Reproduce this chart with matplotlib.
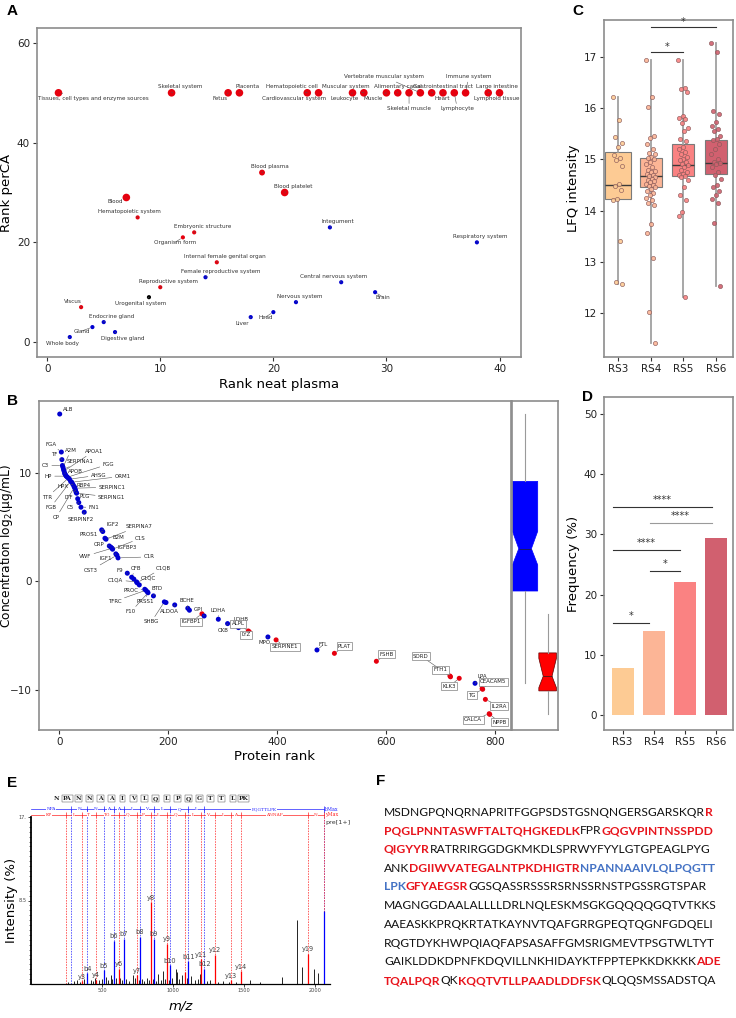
import matplotlib
matplotlib.use("Agg")
import matplotlib.pyplot as plt
from matplotlib.ticker import MultipleLocator
import numpy as np

plt.rcParams["font.family"] = "DejaVu Sans"
W, H = 736, 1018
fig = plt.figure(figsize=(W / 100, H / 100), dpi=100)
fig.patch.set_facecolor("white")

# ---------------- Panel A data ----------------
a_names = ["Tissues, cell types and enzyme sources", "Skeletal system", "Fetus", "Placenta",
           "Hematopoietic cell", "Cardiovascular system", "Leukocyte", "Muscular system", "Muscle",
           "Alimentary canal", "Skeletal muscle", "Vertebrate muscular system", "Gastrointestinal tract",
           "Heart", "Lymphocyte", "Immune system", "Large intestine", "Lymphoid tissue",
           "Blood plasma", "Blood platelet", "Blood", "Hematopoietic system", "Embryonic structure",
           "Organism form", "Integument", "Respiratory system", "Internal female genital organ",
           "Female reproductive system", "Reproductive system", "Central nervous system", "Brain",
           "Urogenital system", "Viscus", "Nervous system", "Head", "Liver", "Endocrine gland",
           "Gland", "Digestive gland", "Whole body"]
a_rank_neat = [1, 11, 16, 17, 23, 24, 27, 28, 30, 31, 32, 33, 34, 35, 36, 37, 39, 40,
               19, 21, 7, 8, 13, 12, 25, 38, 15, 14, 10, 26, 29, 9, 3, 22, 20, 18, 5, 4, 6, 2]
a_rank_perca = [50] * 18 + [34, 30, 29, 25, 22, 21, 23, 20, 16, 13, 11, 12, 10, 9, 7, 8, 6, 5, 4, 3, 2, 1]
a_group = ["red"] * 18 + ["red", "red", "red", "red", "red", "red", "blue", "blue", "red", "blue",
                          "red", "blue", "blue", "black", "red", "blue", "blue", "blue", "blue",
                          "blue", "blue", "blue"]
a_weight = ["L"] * 18 + ["M", "L", "L"] + ["S"] * 19
# label offsets (pixels, right/up) - layout only
a_offsets = [(35, -6), (9, 6), (-8, -6), (8, 6), (-15, 6), (-25, -6), (-8, -6), (-18, 6), (-13, -6),
             (0, 6), (0, -16), (-36, 16), (11, 6), (-1, -6), (3, -16), (3, 16), (9, 6), (-3, -6),
             (8, 6), (9, 6), (-11, -4), (-8, 6), (8, 6), (-8, -5), (8, 6), (3, 6), (8, 6), (15, 6),
             (8, 6), (-8, 6), (8, -5), (-8, -6), (-8, 6), (4, 6), (-8, -5), (-8, -6), (8, 6), (-11, -4),
             (8, -6), (-7, -6)]

# ---------------- Panel B data ----------------
b_genes = ["ALB", "FGA", "TF", "C3", "A2M", "SERPINA1", "APOA1", "APOB", "", "", "HP", "FGG", "TTR",
           "AHSG", "FGB", "ORM1", "HPX", "RBP4", "CP", "SERPINC1", "LTF", "PLG", "SERPING1", "", "C5",
           "FN1", "SERPINF2", "IGF2", "PROS1", "B2M", "SERPINA7", "CRP", "IGFBP3", "VWF", "C1S", "IGF1",
           "CST3", "C1R", "F9", "CFB", "", "C1QA", "C1QB", "C1QC", "PROC", "TFRC", "PRSS1", "F10", "BTD",
           "SHBG", "", "ALDOA", "BCHE", "", "IGFBP1", "GPI", "LDHA", "CKB", "LDHB", "ALPL", "LYZ", "MPO",
           "SERPINE1", "FTL", "PLAT", "FSHB", "SORD", "FTH1", "KLK3", "LPA", "CEACAM5", "TG", "IL2RA",
           "CALCA", "NPPB"]
b_rank = [1, 4, 5, 6, 7, 8, 9, 10, 11, 12, 13, 15, 17, 19, 21, 23, 25, 27, 28, 29, 30, 31, 32, 34, 36,
          40, 46, 78, 80, 84, 86, 92, 95, 97, 98, 104, 106, 108, 125, 133, 137, 142, 143, 147, 157, 159,
          162, 163, 173, 193, 196, 212, 236, 239, 262, 266, 292, 309, 329, 347, 349, 383, 398, 473, 505,
          582, 717, 718, 734, 763, 776, 777, 782, 789, 790]
b_conc = [15.4, 11.9, 11.2, 10.66, 10.5, 10.3, 10.15, 9.95, 9.85, 9.75, 9.68, 9.58, 9.5, 9.4, 9.2, 9.12,
          8.94, 8.76, 8.66, 8.57, 8.39, 8.2, 8.11, 7.6, 7.25, 6.82, 6.36, 4.73, 4.58, 3.96, 3.87, 3.25,
          3.13, 3.04, 2.95, 2.52, 2.4, 2.15, 0.74, 0.37, 0.2, -0.06, -0.14, -0.34, -0.74, -0.83, -0.98,
          -1.06, -1.35, -1.9, -1.96, -2.18, -2.49, -2.67, -3.0, -3.2, -3.5, -3.9, -4.27, -4.58, -4.67,
          -5.13, -5.4, -6.33, -6.64, -7.37, -8.73, -8.8, -8.94, -9.4, -9.89, -9.95, -10.88, -12.2, -12.26]
b_red = {"IGFBP1", "ALPL", "LYZ", "SERPINE1", "PLAT", "FSHB", "SORD", "FTH1", "KLK3", "CEACAM5", "TG",
         "IL2RA", "CALCA", "NPPB"}
b_offsets = {"ALB": (8, 5), "FGA": (-10, 8), "TF": (-8, 5), "C3": (-17, 0), "A2M": (8, 17),
             "SERPINA1": (17, 8), "APOA1": (30, 20), "APOB": (11, 2), "HP": (-18, 0), "FGG": (41, 13),
             "TTR": (-21, -19), "AHSG": (29, 4), "FGB": (-20, -26), "ORM1": (51, 6), "HPX": (-10, -2),
             "RBP4": (10, 1), "CP": (-18, -30), "SERPINC1": (37, 1), "LTF": (-7, -7), "PLG": (9, -4),
             "SERPING1": (35, -4), "C5": (-8, -5), "FN1": (13, 0), "SERPINF2": (-3, -7), "IGF2": (11, 5),
             "PROS1": (-14, -3), "B2M": (13, 1), "SERPINA7": (33, 13), "CRP": (-10, 1), "IGFBP3": (16, 0),
             "VWF": (-27, -8), "C1S": (28, 11), "IGF1": (-10, -5), "CST3": (-26, -15), "C1R": (31, 1),
             "F9": (-7, 3), "CFB": (4, 9), "C1QA": (-21, 2), "C1QB": (26, 15), "C1QC": (9, 7),
             "PROC": (-14, -1), "TFRC": (-31, -11), "PRSS1": (-2, -10), "F10": (-17, -19), "BTD": (4, 7),
             "SHBG": (-13, -20), "ALDOA": (-5, -7), "BCHE": (-1, 8), "IGFBP1": (-11, -8), "GPI": (-6, 6),
             "LDHA": (0, 9), "CKB": (-4, -7), "LDHB": (3, 8), "ALPL": (-10, 7), "LYZ": (-3, -3),
             "MPO": (-3, -6), "SERPINE1": (9, -7), "FTL": (6, 5), "PLAT": (10, 7), "FSHB": (10, 7),
             "SORD": (-29, 20), "FTH1": (-10, 7), "KLK3": (-10, -8), "LPA": (7, 7), "CEACAM5": (11, 7),
             "TG": (-11, -6), "IL2RA": (14, -7), "CALCA": (-16, -6), "NPPB": (10, -8)}
# side boxplot summary (blue = detected, red = not detected)
bs_med = [3.0, -8.75]
bs_q1 = [-0.9, -10.1]
bs_q3 = [9.2, -6.6]
bs_lo = [-9.4, -12.26]
bs_hi = [15.4, -3.0]
bs_cilo = [1.5, -9.8]
bs_cihi = [4.6, -7.1]

# ---------------- Panel C data ----------------
c_groups = ["RS3", "RS4", "RS5", "RS6"]
c_rs3 = [16.21, 15.76, 15.43, 15.32, 15.24, 15.09, 15.03, 14.98, 14.86, 14.52, 14.47, 14.41, 14.23, 14.20,
         13.40, 12.60, 12.56]
c_rs4 = [16.93, 16.22, 16.02, 15.45, 15.42, 15.30, 15.20, 15.12, 15.10, 15.05, 15.02, 15.00, 14.95, 14.90,
         14.85, 14.80, 14.78, 14.75, 14.72, 14.70, 14.68, 14.65, 14.62, 14.60, 14.58, 14.55, 14.52, 14.50,
         14.48, 14.45, 14.42, 14.38, 14.35, 14.30, 14.25, 14.20, 14.15, 14.10, 13.73, 13.57, 13.07, 12.02,
         11.42]
c_rs5 = [16.93, 16.40, 16.38, 16.32, 15.85, 15.80, 15.78, 15.70, 15.62, 15.55, 15.40, 15.35, 15.25, 15.20,
         15.15, 15.10, 15.05, 15.00, 14.98, 14.95, 14.90, 14.88, 14.85, 14.80, 14.75, 14.72, 14.70, 14.68,
         14.65, 14.60, 14.45, 14.30, 14.20, 13.97, 13.90, 12.32]
c_rs6 = [17.28, 17.10, 15.95, 15.88, 15.72, 15.65, 15.60, 15.55, 15.45, 15.40, 15.38, 15.30, 15.20, 15.10,
         15.00, 14.95, 14.92, 14.90, 14.85, 14.75, 14.70, 14.62, 14.50, 14.45, 14.38, 14.30, 14.22, 14.15,
         13.75, 12.52]
c_q1 = [14.22, 14.46, 14.68, 14.72]
c_med = [14.50, 14.67, 14.88, 14.93]
c_q3 = [15.14, 15.02, 15.30, 15.38]
c_sig = [(1, 2, 17.09, "*"), (1, 3, 17.58, "*")]

# ---------------- Panel D data ----------------
d_groups = ["RS3", "RS4", "RS5", "RS6"]
d_freq = [7.8, 13.9, 22.0, 29.4]
d_sig = [(0, 1, 15.3, "*"), (1, 2, 23.9, "*"), (0, 2, 27.4, "****"), (1, 3, 31.9, "****"),
         (0, 3, 34.6, "****")]

# ---------------- Panel E data ----------------
e_peptide = ["N", "PA", "N", "N", "A", "A", "I", "V", "L", "Q", "L", "P", "Q", "G", "T", "T", "L", "PK"]
e_b_frag = [283, 397, 511, 582, 653, 766, 865, 978, 1106, 1219]
e_b_seg = ["NPA", "N", "N", "A", "A", "I", "V", "L", "Q", "L", "PQGTTLPK"]
e_y_frag = [244, 357, 458, 616, 744, 841, 954, 1082, 1195, 1294, 1407, 1478, 1945]
e_y_seg = ["KP", "L", "T", "TG", "Q", "P", "L", "Q", "L", "V", "I", "A", "ANNAP", "N"]
e_precursor = 2059
e_pre_int = 7.4
e_b_peak_mz = [397, 511, 582, 653, 766, 865, 978, 1106, 1219]
e_b_peak_int = [1.1, 1.4, 4.4, 4.6, 4.8, 4.6, 1.9, 2.3, 1.55]
e_b_peak_lab = ["b4", "b5", "b6", "b7", "b8", "b9", "b10", "b11", "b12"]
e_y_peak_mz = [357, 458, 616, 744, 841, 954, 1082, 1195, 1294, 1407, 1478, 1945]
e_y_peak_int = [0.3, 0.45, 1.55, 0.9, 8.3, 4.1, 1.2, 2.5, 3.0, 0.4, 1.3, 3.1]
e_y_peak_lab = ["y3", "y4", "y6", "y7", "y8", "y9", "", "y11", "y12", "y13", "y14", "y19"]
e_noise_mz = [262, 301, 322, 348, 376, 392, 421, 436, 449, 476, 496, 528, 541, 560, 573, 598, 627, 640,
              671, 690, 716, 732, 760, 779, 795, 814, 829, 857, 878, 896, 914, 931, 945, 968, 990, 1018,
              1026, 1041, 1060, 1095, 1126, 1150, 1172, 1189, 1238, 1262, 1318, 1350, 1392, 1440, 1540,
              1612, 1765, 1868, 1908, 1992, 2016]
e_noise_int = [0.2, 0.3, 0.4, 0.2, 0.5, 0.3, 0.4, 0.3, 0.6, 0.4, 0.5, 0.7, 0.4, 0.9, 0.5, 0.6, 0.6, 0.4,
               0.5, 0.3, 0.9, 0.6, 0.4, 0.5, 0.3, 0.6, 0.4, 0.5, 0.3, 1.0, 0.4, 1.3, 0.5, 0.4, 0.6, 1.5,
               1.2, 0.5, 0.9, 0.6, 0.8, 0.4, 0.5, 1.0, 0.3, 0.4, 0.2, 0.3, 0.2, 0.2, 0.4, 0.2, 0.7, 6.5,
               1.7, 1.5, 1.1]

# ---------------- Panel F data ----------------
f_lines = [
    [("MSDNGPQNQRNAPRITFGGPSDSTGSNQNGERSGARSKQR", "k"), ("R", "r")],
    [("PQGLPNNTASWFTALTQHGKEDLK", "r"), ("FPR", "k"), ("GQGVPINTNSSPDD", "r")],
    [("QIGYYR", "r"), ("RATRRIRGGDGKMKDLSPRWYFYYLGTGPEAGLPYG", "k")],
    [("ANK", "k"), ("DGIIWVATEGALNTPKDHIGTR", "r"), ("NPANNAAIVLQLPQGTT", "b")],
    [("LPK", "b"), ("GFYAEGSR", "r"), ("GGSQASSRSSSRSRNSSRNSTPGSSRGTSPAR", "k")],
    [("MAGNGGDAALALLLLDRLNQLESKMSGKGQQQQGQTVTKKS", "k")],
    [("AAEASKKPRQKRTATKAYNVTQAFGRRGPEQTQGNFGDQELI", "k")],
    [("RQGTDYKHWPQIAQFAPSASAFFGMSRIGMEVTPSGTWLTYT", "k")],
    [("GAIKLDDKDPNFKDQVILLNKHIDAYKTFPPTEPKKDKKKK", "k"), ("ADE", "r")],
    [("TQALPQR", "r"), ("QK", "k"), ("KQQTVTLLPAADLDDFSK", "r"), ("QLQQSMSSADSTQA", "k")],
]

# ---------------- helpers ----------------
SPINE = "#8c8c8c"
TICK_FS = 7.5
LAB_FS = 9.5
RED = "#e6000e"
BLUE = "#0000d0"


def add_ax(l, t, r, b):
    return fig.add_axes([l / W, 1 - b / H, (r - l) / W, (b - t) / H])


def style(ax):
    for s in ax.spines.values():
        s.set_color(SPINE)
        s.set_linewidth(1.2)
    ax.tick_params(labelsize=TICK_FS, length=3, width=0.8, color="#333333", labelcolor="#222222", pad=2)


# ================= Panel A =================
axA = add_ax(37, 28, 521, 357)
style(axA)
cmap = {"red": RED, "blue": BLUE, "black": "black"}
smap = {"L": 30, "M": 18, "S": 9}
axA.scatter(a_rank_neat, a_rank_perca, c=[cmap[g] for g in a_group], s=[smap[w] for w in a_weight],
            linewidths=0, zorder=3)
for name, x, y, off in zip(a_names, a_rank_neat, a_rank_perca, a_offsets):
    axA.annotate(name, (x, y), xytext=off, textcoords="offset pixels", ha="center", va="center",
                 fontsize=4.1, color="#333333", zorder=4,
                 arrowprops=dict(arrowstyle="-", lw=0.4, color="#555555", shrinkA=0, shrinkB=2))
axA.set_xlim(-0.9, 41.9)
axA.set_ylim(-3, 63)
axA.set_xticks([0, 10, 20, 30, 40])
axA.set_yticks([0, 20, 40, 60])
axA.set_xlabel("Rank neat plasma", fontsize=LAB_FS, labelpad=3)
axA.set_ylabel("Rank perCA", fontsize=LAB_FS, labelpad=3)

# ================= Panel B =================
axB = add_ax(39, 401, 511, 730)
style(axB)
cols = [RED if g in b_red else BLUE for g in b_genes]
axB.scatter(b_rank, b_conc, c=cols, s=13, linewidths=0, zorder=3)
for g, x, y in zip(b_genes, b_rank, b_conc):
    if not g:
        continue
    off = b_offsets[g]
    kw = dict(fontsize=4.0, color="#222222", ha="center", va="center", zorder=5,
              textcoords="offset pixels", xytext=off,
              arrowprops=dict(arrowstyle="-", lw=0.4, color="#555555", shrinkA=0, shrinkB=2))
    if g in b_red:
        kw["bbox"] = dict(boxstyle="square,pad=0.25", fc="white", ec="#808080", lw=0.5)
        kw["zorder"] = 6
    axB.annotate(g, (x, y), **kw)
axB.set_xlim(-37, 829)
axB.set_ylim(-13.7, 16.6)
axB.set_xticks([0, 200, 400, 600, 800])
axB.set_yticks([-10, 0, 10])
axB.set_xlabel("Protein rank", fontsize=LAB_FS, labelpad=2)
axB.set_ylabel("Concentration log$_2$(μg/mL)", fontsize=8.8)
axB.yaxis.set_label_coords(-0.05, 0.56)

axBs = add_ax(512, 401, 558, 730)
style(axBs)
stats = []
for i in range(2):
    stats.append(dict(med=bs_med[i], q1=bs_q1[i], q3=bs_q3[i], whislo=bs_lo[i], whishi=bs_hi[i],
                      cilo=bs_cilo[i], cihi=bs_cihi[i], fliers=[]))
bp = axBs.bxp(stats, positions=[0, 1], widths=[1.12, 0.78], shownotches=True, patch_artist=True,
              showfliers=False, showcaps=False,
              whiskerprops=dict(color="#9a9a9a", lw=0.8),
              medianprops=dict(color="#222222", lw=0.5))
for patch, col in zip(bp["boxes"], ["#0000ff", "#ff0000"]):
    patch.set_facecolor(col)
    patch.set_edgecolor(col if col == "#0000ff" else "#600000")
    patch.set_linewidth(0.5)
axBs.set_xlim(-0.58, 1.46)
axBs.set_ylim(-13.7, 16.6)
axBs.set_xticks([])
axBs.set_yticks([])

# ================= Panel C =================
pal = ["#FDCB94", "#FCB596", "#FA8282", "#D1606F"]
axC = add_ax(604, 20, 733, 357)
style(axC)
c_data = [c_rs3, c_rs4, c_rs5, c_rs6]
cstats = []
for i, vals in enumerate(c_data):
    cstats.append(dict(med=c_med[i], q1=c_q1[i], q3=c_q3[i], whislo=min(vals), whishi=max(vals),
                       fliers=[]))
bpc = axC.bxp(cstats, positions=range(4), widths=[0.82, 0.68, 0.68, 0.66], patch_artist=True,
              showfliers=False, showcaps=False,
              whiskerprops=dict(color="#a0a0a0", lw=1.3),
              medianprops=dict(color="#3a3a3a", lw=1.0),
              boxprops=dict(edgecolor="#7a7a7a", lw=0.8))
for patch, col in zip(bpc["boxes"], pal):
    patch.set_facecolor(col)
    patch.set_zorder(2)
for i, vals in enumerate(c_data):
    n = len(vals)
    jit = [((k * 0.6180339) % 1.0 - 0.5) * 0.3 for k in range(n)]
    axC.scatter([i + j for j in jit], vals, s=9, facecolor=pal[i], edgecolor="#8a5a5a", linewidths=0.5,
                alpha=0.9, zorder=4)
for i, j, y, star in c_sig:
    axC.plot([i, j], [y, y], color="#333333", lw=0.8)
    axC.text((i + j) / 2, y + 0.01, star, ha="center", va="bottom", fontsize=7, color="#333333")
axC.set_xlim(-0.43, 3.52)
axC.set_ylim(11.14, 17.72)
axC.set_xticks(range(4))
axC.set_xticklabels(c_groups)
axC.set_yticks([12, 13, 14, 15, 16, 17])
axC.set_ylabel("LFQ intensity", fontsize=LAB_FS, labelpad=3)

# ================= Panel D =================
axD = add_ax(604, 397, 733, 730)
style(axD)
axD.bar(range(4), d_freq, width=0.7, color=pal, zorder=2)
for i, j, y, star in d_sig:
    x1 = i - 0.32 if i == 0 else i - 0.13
    x2 = j - 0.14
    col = "#9a9a9a" if (i, j) == (1, 3) else "#333333"
    axD.plot([x1, x2], [y, y], color=col, lw=0.8)
    axD.text((x1 + x2) / 2, y + 0.3, star, ha="center", va="bottom", fontsize=7, color="#333333")
axD.set_xlim(-0.6, 3.55)
axD.set_ylim(-2.5, 52.8)
axD.set_xticks(range(4))
axD.set_xticklabels(d_groups)
axD.set_yticks([0, 10, 20, 30, 40, 50])
axD.set_ylabel("Frequency (%)", fontsize=LAB_FS, labelpad=3)

# ================= Panel E =================
axE = add_ax(31, 817, 330, 984)
axE.set_xlim(0, 2103)
axE.set_ylim(0, 17)
for s in ["top", "right"]:
    axE.spines[s].set_visible(False)
axE.spines["left"].set_linewidth(1.3)
axE.spines["bottom"].set_linewidth(0.9)
axE.set_xticks([500, 1000, 1500, 2000])
axE.set_yticks([8.5, 17])
axE.set_yticklabels(["8.5", "17."])
axE.yaxis.set_minor_locator(MultipleLocator(0.5))
axE.tick_params(axis="both", labelsize=3.6, length=2, width=0.5, pad=1, labelcolor="#444444")
axE.tick_params(axis="y", which="minor", length=1.2, width=0.4)
frag_b_all = e_b_frag + [e_precursor]
frag_y_all = e_y_frag + [e_precursor]
axE.vlines(frag_b_all, 0, 17.8, colors="#3333ff", linestyles=(0, (2, 1.5)), lw=0.55, clip_on=False)
axE.vlines(frag_y_all, 0, 17.25, colors="#ff3333", linestyles=(0, (2, 1.5)), lw=0.55, clip_on=False)
axE.vlines(e_noise_mz, 0, e_noise_int, colors="black", lw=0.6, zorder=3)
axE.vlines(e_b_peak_mz, 0, e_b_peak_int, colors="#0000ff", lw=0.9, zorder=4)
axE.vlines(e_y_peak_mz, 0, e_y_peak_int, colors="#ff0000", lw=0.9, zorder=4)
axE.vlines([e_precursor], 0, [e_pre_int], colors="#0000ff", lw=0.9, zorder=4)
for mz, it, lab in zip(e_b_peak_mz, e_b_peak_int, e_b_peak_lab):
    axE.text(mz, it + 0.15, lab, ha="center", va="bottom", fontsize=4.8, color="#444444", zorder=5)
for mz, it, lab in zip(e_y_peak_mz, e_y_peak_int, e_y_peak_lab):
    if lab:
        axE.text(mz, it + 0.15, lab, ha="center", va="bottom", fontsize=4.8, color="#444444", zorder=5)
axE.text(2067, 16.4, "pre[1+]", ha="left", va="center", fontsize=4.6, color="#333333", clip_on=False)
# fragment ladders
for yl, frags, segs, col, endlab in [(17.8, frag_b_all, e_b_seg, "#2222ff", "bMax"),
                                     (17.25, frag_y_all, e_y_seg, "#ff2222", "yMax")]:
    axE.plot([0, e_precursor], [yl, yl], color=col, lw=0.5, clip_on=False)
    bounds = [0] + frags
    for k, seg in enumerate(segs):
        axE.text((bounds[k] + bounds[k + 1]) / 2, yl, seg, ha="center", va="center", fontsize=3.2,
                 color=col, clip_on=False, family="DejaVu Serif",
                 bbox=dict(boxstyle="square,pad=0.03", fc="white", ec="none"))
    axE.vlines(frags, yl - 0.3, yl + 0.3, colors=col, lw=0.5, clip_on=False)
    axE.text(e_precursor + 10, yl, endlab, ha="left", va="center", fontsize=3.4, color=col,
             clip_on=False, family="DejaVu Serif")
pep_x = np.linspace(178, 1496, len(e_peptide))
for k, (x, tok) in enumerate(zip(pep_x, e_peptide)):
    bb = None if k == 0 else dict(boxstyle="square,pad=0.15", fc="white", ec="#555555", lw=0.35)
    axE.text(x, 18.9, tok, ha="center", va="center", fontsize=4.3, family="DejaVu Serif",
             weight="bold", color="#222222", clip_on=False, bbox=bb)
axE.set_ylabel("Intensity (%)", fontsize=LAB_FS)
axE.yaxis.set_label_coords(-0.045, 0.5)
axE.set_xlabel("m/z", fontsize=LAB_FS, style="italic")
axE.xaxis.set_label_coords(0.5, -0.09)

# ================= Panel F =================
axF = fig.add_axes([0, 0, 1, 1], zorder=-1)
axF.set_xlim(0, W)
axF.set_ylim(H, 0)
axF.axis("off")
fcol = {"k": "#111111", "r": "#e8141c", "b": "#4472c4"}
probe = axF.text(0, 0, f_lines[7][0][0], fontsize=9, family="Lato")
fig.canvas.draw()
wprobe = probe.get_window_extent().width
probe.remove()
ffs = 9 * 332.0 / wprobe
for li, segs in enumerate(f_lines):
    y = 812 + li * 18.74
    prev = None
    for txt, c in segs:
        kw = dict(fontsize=ffs, family="Lato", color=fcol[c], weight="bold" if c != "k" else "normal")
        if prev is None:
            prev = axF.text(384, y, txt, ha="left", va="center", **kw)
        else:
            prev = axF.annotate(txt, xy=(1, 0.5), xycoords=prev, ha="left", va="center", **kw)

# ================= Panel labels =================
for lab, x, y in [("A", 7, 4), ("B", 7, 394), ("C", 572, 4), ("D", 582, 390), ("E", 7, 776),
                  ("F", 376, 774)]:
    fig.text(x / W, 1 - y / H, lab, ha="left", va="top", fontsize=11, weight="bold",
             family="Liberation Sans")

fig.savefig("out.png", dpi=100)
